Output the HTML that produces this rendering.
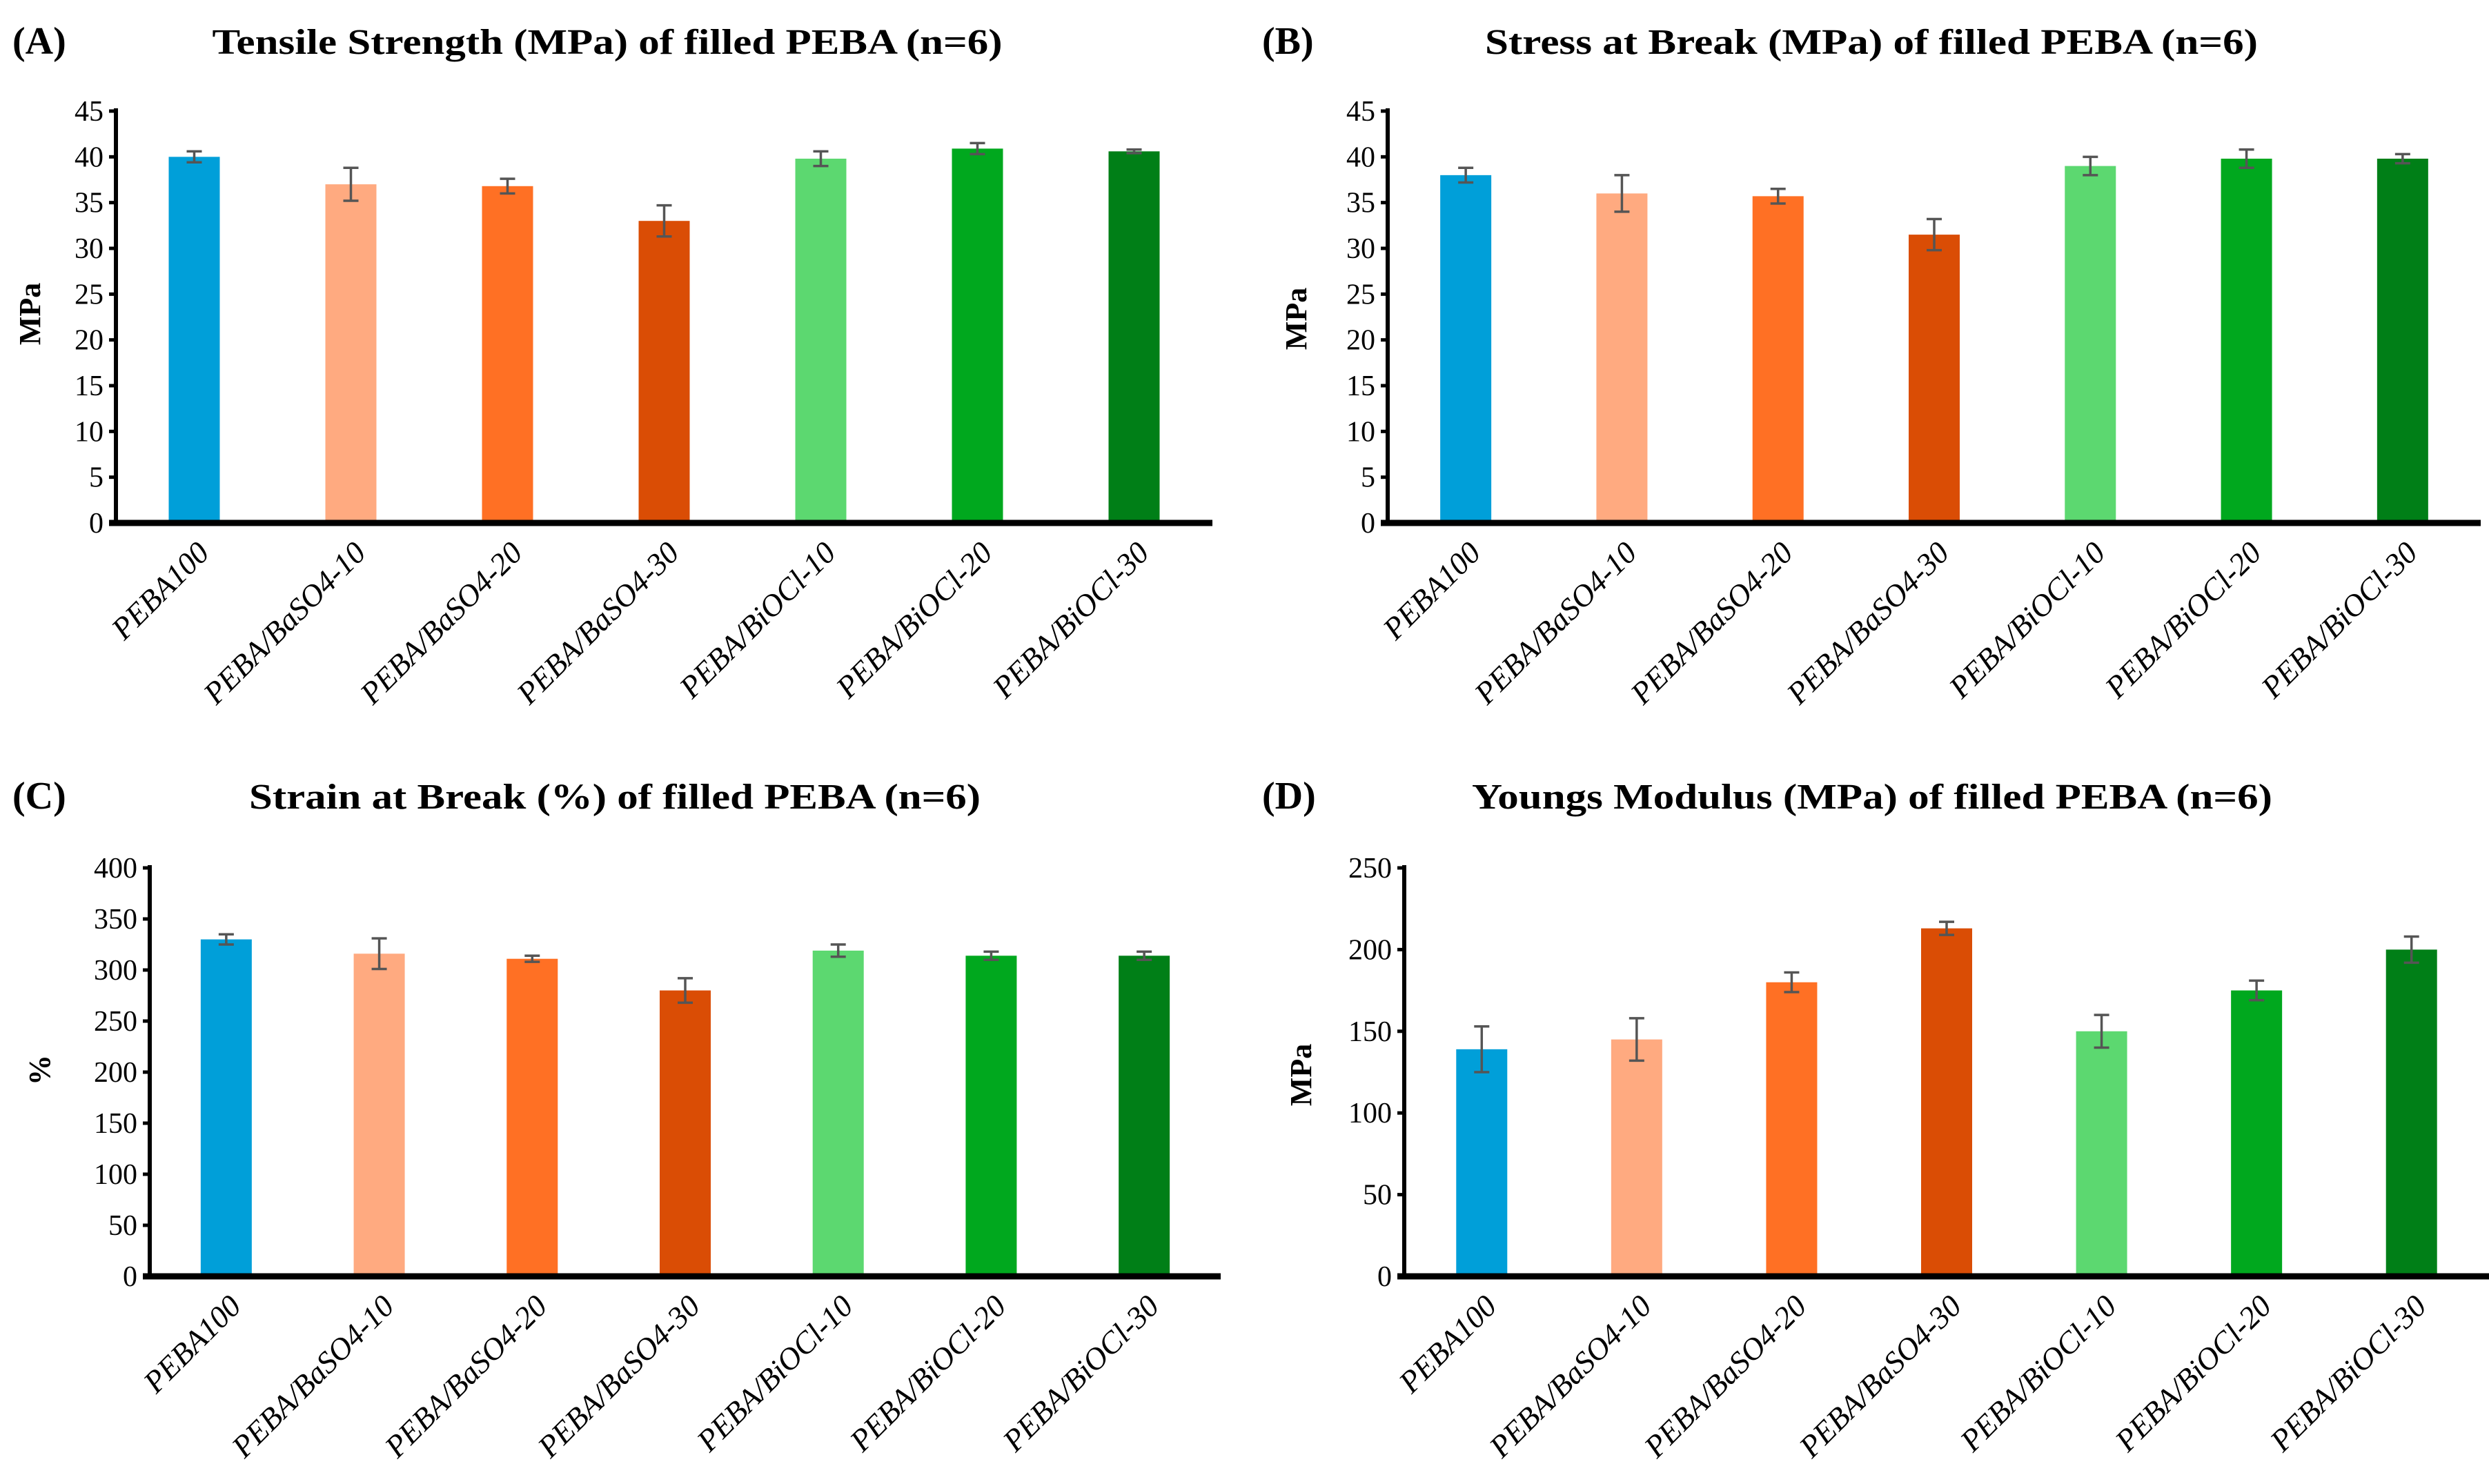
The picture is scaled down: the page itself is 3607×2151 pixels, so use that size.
<!DOCTYPE html>
<html><head><meta charset="utf-8"><style>
html,body{margin:0;padding:0;background:#fff;}
svg{display:block;}
text{font-family:"Liberation Serif",serif;}
</style></head><body>
<svg id="fig" width="3607" height="2151" viewBox="0 0 3607 2151" xmlns="http://www.w3.org/2000/svg"></svg>
<script>
const categories = ["PEBA100","PEBA/BaSO4-10","PEBA/BaSO4-20","PEBA/BaSO4-30","PEBA/BiOCl-10","PEBA/BiOCl-20","PEBA/BiOCl-30"];
const colors = ["#009fd9","#ffaa80","#ff7024","#da4d05","#5cd870","#00a81e","#007f17"];
const tensileValues = [40, 37, 36.8, 33, 39.8, 40.9, 40.6];
const tensileErrors = [0.6, 1.8, 0.8, 1.7, 0.8, 0.6, 0.2];
const stressValues = [38, 36, 35.7, 31.5, 39, 39.8, 39.8];
const stressErrors = [0.8, 2.0, 0.8, 1.7, 1.0, 1.0, 0.5];
const strainValues = [330, 316, 311, 280, 319, 314, 314];
const strainErrors = [5, 15, 3, 12, 6, 4, 4];
const modulusValues = [139, 145, 180, 213, 150, 175, 200];
const modulusErrors = [14, 13, 6, 4, 10, 6, 8];
const ticksA = [0,5,10,15,20,25,30,35,40,45];
const ticksC = [0,50,100,150,200,250,300,350,400];
const ticksD = [0,50,100,150,200,250];

const NS = "http://www.w3.org/2000/svg";
const svg = document.getElementById('fig');
function mk(tag, attrs, parent){
  const e = document.createElementNS(NS, tag);
  for (const k in attrs) e.setAttribute(k, attrs[k]);
  (parent||svg).appendChild(e);
  return e;
}

function panel(id, letter, title, ytitle, vals, errs, ticks, box){
  const g = mk('g', {});
  
  
  const {x0, x1, y0, yTop, ymax, labelX, titleX, titleY, titleLen, ytX, ytY} = box;
  const yScale = v => y0 - (v / ymax) * (y0 - yTop);
  const band = (x1 - x0) / categories.length;
  const xCenter = i => x0 + band * (i + 0.5);
  const barW = 74;

  const pl = mk('text', {x: labelX, y: titleY, 'font-size': 56, 'font-weight': 'bold', fill: '#000'}, g);
  pl.textContent = '(' + letter + ')';
  
  

  const t = mk('text', {x: titleX, y: titleY, 'font-size': 52, 'font-weight': 'bold', 'text-anchor': 'middle', textLength: titleLen, lengthAdjust: 'spacingAndGlyphs', fill: '#000'}, g);
  t.textContent = title;
  
  

  const yt = mk('text', {x: ytX, y: ytY, 'font-size': 44, 'font-weight': 'bold', 'text-anchor': 'middle', transform: `rotate(-90 ${ytX} ${ytY})`, fill: '#000'}, g);
  yt.textContent = ytitle;
  
  

  ticks.forEach(v => {
    const y = yScale(v);
    const tk = mk('line', {x1: x0 - 10, x2: x0, y1: y, y2: y, stroke: '#000', 'stroke-width': 5}, g);
    
    
    const tl = mk('text', {x: x0 - 18, y: y + 14, 'font-size': 42, 'text-anchor': 'end', fill: '#000'}, g);
    tl.textContent = v;
    
    
  });

  vals.forEach((v, i) => {
    const cx = xCenter(i);
    const b = mk('rect', {x: cx - barW/2, y: yScale(v), width: barW, height: y0 - yScale(v), fill: colors[i]}, g);
    
    
    const yh = yScale(v + errs[i]), yl = yScale(v - errs[i]);
    const eb = mk('path', {d: `M${cx} ${yh}V${yl}M${cx-11} ${yh}H${cx+11}M${cx-11} ${yl}H${cx+11}`, stroke: '#555', 'stroke-width': 3.5, fill: 'none'}, g);
    
    
    const lx = cx + 24, ly = y0 + 46;
    const xl = mk('text', {x: lx, y: ly, 'font-size': 45, 'font-style': 'italic', 'text-anchor': 'end', transform: `rotate(-45 ${lx} ${ly})`, fill: '#000'}, g);
    xl.textContent = categories[i];
    
    
  });

  const ax = mk('line', {x1: x0, x2: x0, y1: yTop - 4, y2: y0 + 4, stroke: '#000', 'stroke-width': 6}, g);
  
  
  const xa = mk('line', {x1: x0 - 10, x2: x1, y1: y0, y2: y0, stroke: '#000', 'stroke-width': 9}, g);
  
  
}

panel('a', 'A', 'Tensile Strength (MPa) of filled PEBA (n=6)', 'MPa', tensileValues, tensileErrors, ticksA,
  {x0: 168, x1: 1757, y0: 758, yTop: 161, ymax: 45, labelX: 18, titleX: 880, titleY: 78, titleLen: 1145, ytX: 58, ytY: 455});
panel('b', 'B', 'Stress at Break (MPa) of filled PEBA (n=6)', 'MPa', stressValues, stressErrors, ticksA,
  {x0: 2011, x1: 3595, y0: 758, yTop: 161, ymax: 45, labelX: 1829, titleX: 2712, titleY: 78, titleLen: 1120, ytX: 1893, ytY: 462});
panel('c', 'C', 'Strain at Break (%) of filled PEBA (n=6)', '%', strainValues, strainErrors, ticksC,
  {x0: 217, x1: 1769, y0: 1850, yTop: 1258, ymax: 400, labelX: 18, titleX: 891, titleY: 1172, titleLen: 1060, ytX: 72, ytY: 1551});
panel('d', 'D', 'Youngs Modulus (MPa) of filled PEBA (n=6)', 'MPa', modulusValues, modulusErrors, ticksD,
  {x0: 2035, x1: 3607, y0: 1850, yTop: 1258, ymax: 250, labelX: 1829, titleX: 2713, titleY: 1172, titleLen: 1160, ytX: 1900, ytY: 1558});
</script>
</body></html>
